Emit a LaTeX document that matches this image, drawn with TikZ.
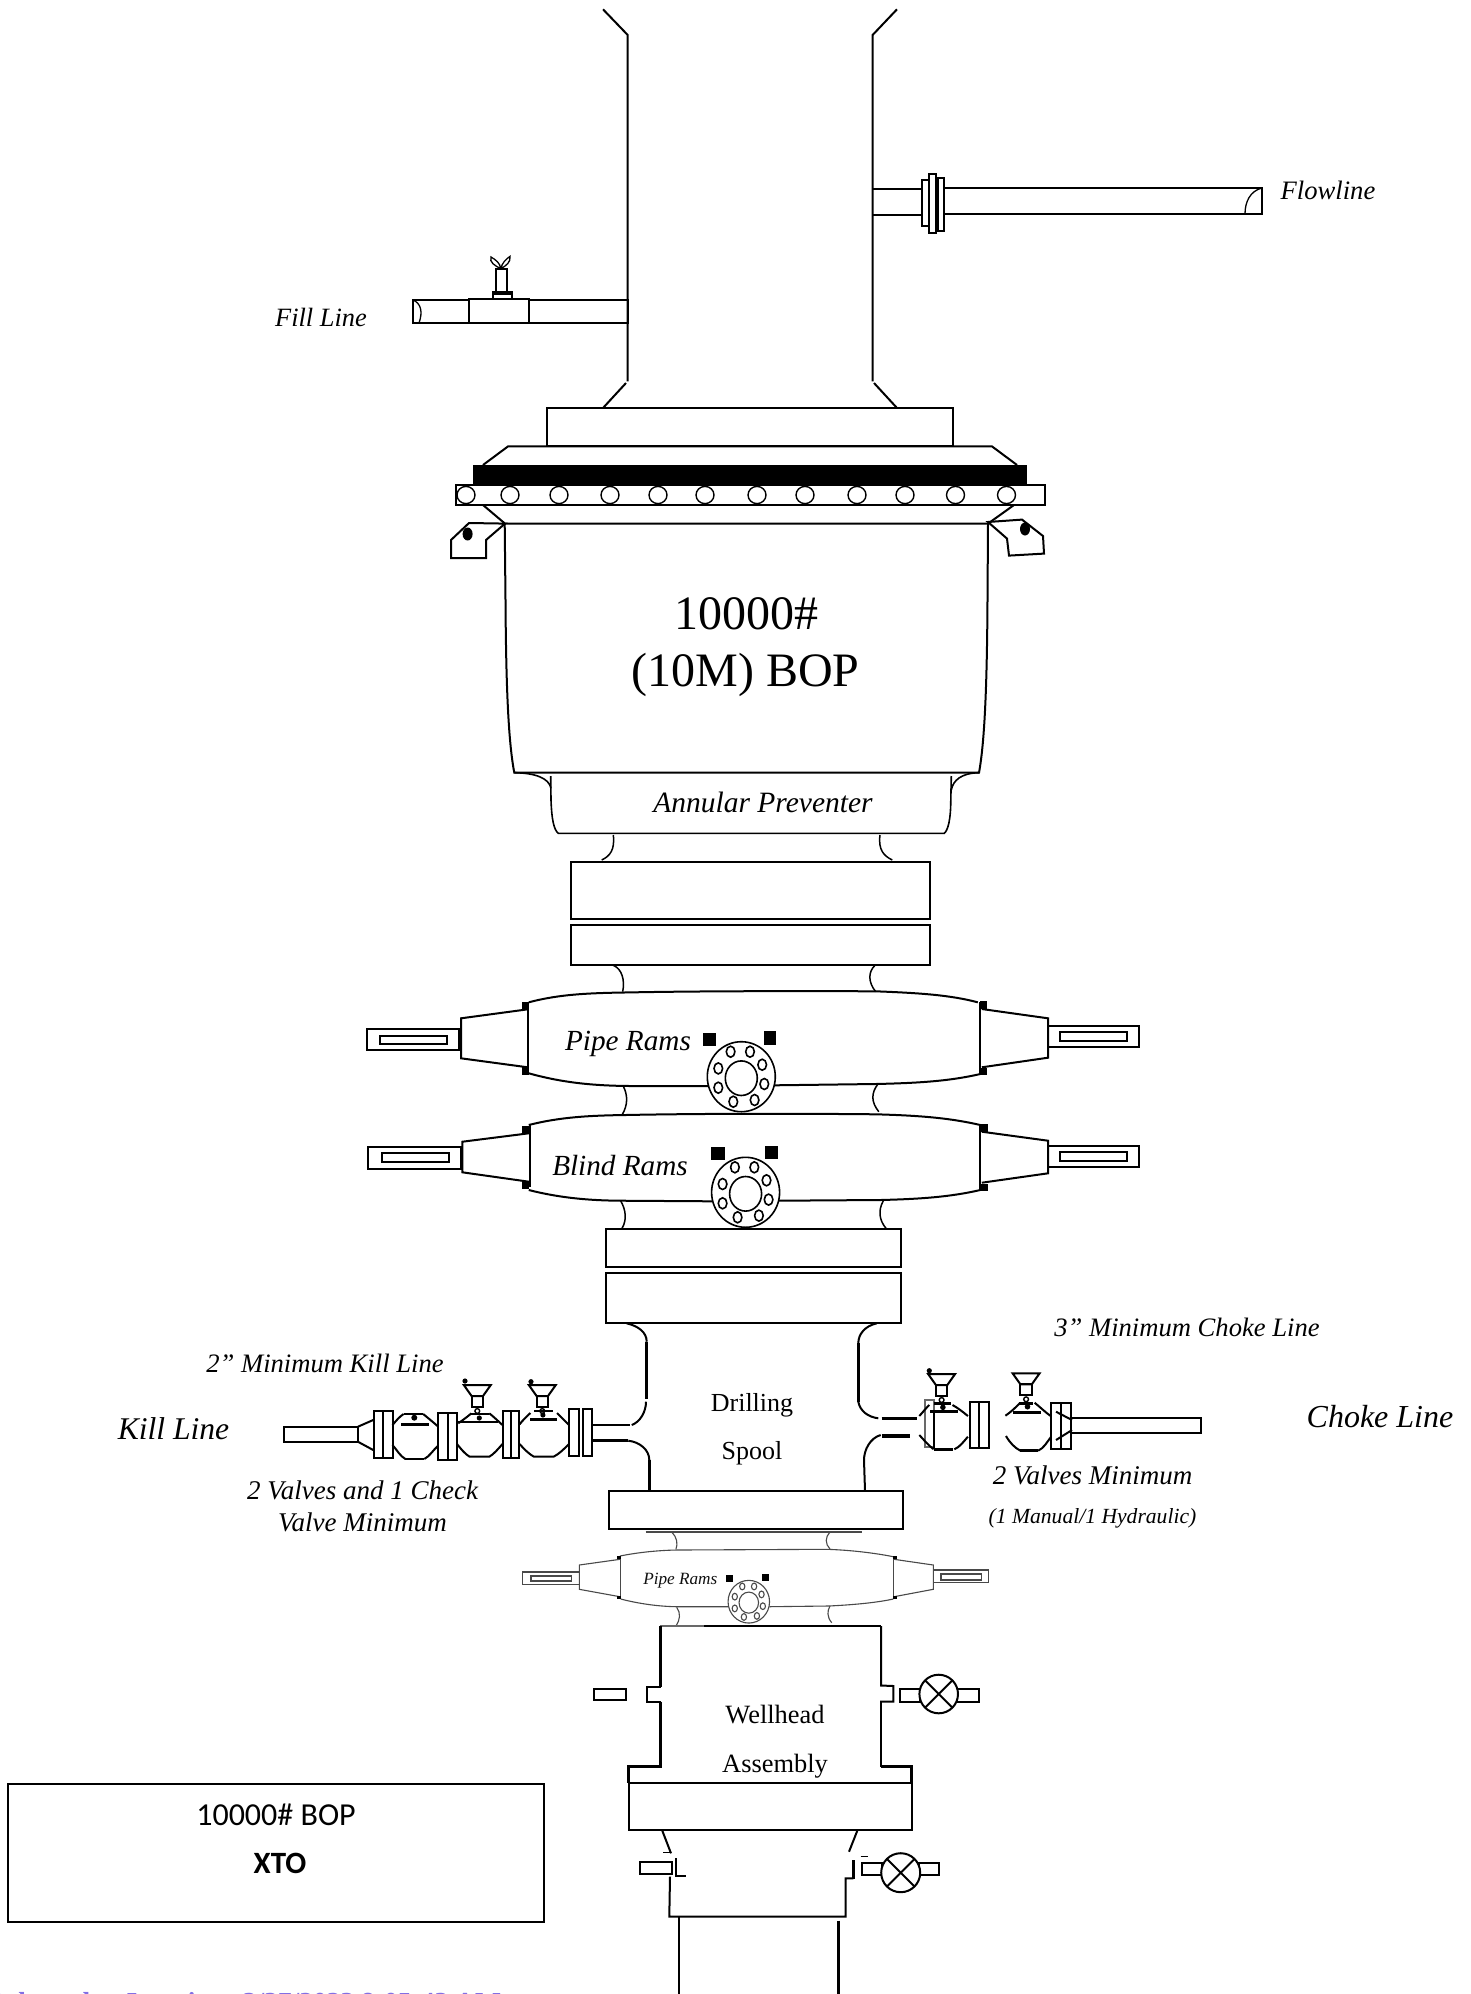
\documentclass[tikz,border=0pt]{standalone}
\usepackage{fontspec}
\setmainfont{Liberation Serif}
\newfontfamily\boxfont{Carlito}
\definecolor{stampcol}{RGB}{130,110,228}
\definecolor{softgray}{RGB}{105,105,105}
\tikzset{
  ln/.style={line width=2pt,line join=miter},
  thk/.style={line width=3.4pt},
  thn/.style={line width=1.1pt,softgray!70!black},
  blk/.style={fill=black,draw=none},
  lbl/.style={inner sep=0pt,anchor=base,text=black},
}
\newcommand{\tsz}[1]{\fontsize{#1}{#1}\selectfont}
% flange plate: cx cy scale style
\newcommand{\flangeplate}[4]{%
  \begin{scope}[shift={(#1,#2)},#4]
    \draw[fill=white] (0,0) ellipse [x radius=34*#3,y radius=35*#3];
    \draw (0,1.5*#3) ellipse [x radius=16*#3,y radius=17.3*#3];
    \foreach \bx/\by in {-10.7/-25,8.7/-25,20.9/-12,23/7.3,13.3/23.3,-8/25,-23/11,-23/-8.3}
      \draw (\bx*#3,\by*#3) ellipse [x radius=4.3*#3,y radius=5.5*#3];
  \end{scope}}
% valve actuator: cx top
\newcommand{\actuator}[2]{%
  \draw[ln] (#1-13.5,#2) -- (#1+13.5,#2) -- (#1+5.7,#2+11) -- (#1-5.7,#2+11) -- cycle;
  \draw[ln] (#1-5.7,#2+11) rectangle (#1+5.7,#2+22);
  \draw[line width=1.4pt] (#1,#2+26) circle (2.4);}
\begin{document}
\begin{tikzpicture}[x=1pt,y=-1pt]
\useasboundingbox (0,0) rectangle (1471,1994);
\fill[white] (0,0) rectangle (1471,1994);

% riser
\draw[ln] (603,9.3) -- (627.7,35) -- (627.7,381.4);
\draw[ln] (626,383) -- (603,408);
\draw[ln] (897,9.3) -- (872.6,35) -- (872.6,381.4);
\draw[ln] (874,383) -- (897,408);

% flowline
\draw[ln] (872.6,189) -- (921.7,189);
\draw[ln] (872.6,215.4) -- (921.7,215.4);
\draw[ln] (921.7,179.6) rectangle (928.7,226);
\draw[ln] (929.3,174) rectangle (936.3,233);
\draw[ln] (937.6,178) rectangle (944,231);
\draw[ln] (944,188) rectangle (1262,214);
\draw[line width=1.3pt] (1262,188) .. controls (1250,191) and (1245,202) .. (1245,214);

% fill line
\draw[ln] (412.8,300) rectangle (627.7,323);
\draw[ln,fill=white] (469,298.6) rectangle (529,323);
\draw[line width=1.3pt] (412.8,300) .. controls (421,303) and (423,312) .. (419,323);
\draw[ln] (495.7,268.6) rectangle (507,292);
\draw[ln] (492.5,292) rectangle (511.6,298.6);
\fill (492.5,291) rectangle (511.6,295);
\draw[line width=1.3pt] (500.8,268.6) .. controls (495,266) and (489,262) .. (491,257) .. controls (496,260) and (500,263) .. (500.8,268.6);
\draw[line width=1.3pt] (500.8,268.6) .. controls (506,266) and (511,262) .. (510,256.4) .. controls (506,259) and (502,263) .. (500.8,268.6);

% annular head
\draw[ln] (546.7,408) rectangle (953,446.4);
\draw[ln] (483,465) -- (508,446.4) -- (992,446.4) -- (1017,465);
\fill (473,465) rectangle (1027,485);
\draw[ln] (455.5,485) rectangle (1045,505);
\foreach \cx in {466,510,559,610,658,705,757,805,857,905,955.5,1006.5}
  \draw[line width=1.4pt] (\cx,495) ellipse [x radius=9,y radius=8.6];
\draw[ln] (483,505) -- (505,523.6) -- (988,523.6) -- (1014,505);

% body
\draw[ln] (504.7,523.6) -- (505.5,600) .. controls (506,680) and (508,740) .. (514.3,772.7) -- (979,772.7) .. controls (985,740) and (987,680) .. (987.5,600) -- (988,523.6);
\draw[ln,line width=1.6pt] (514.3,772.7) .. controls (535,773) and (549,778) .. (551,788.3);
\draw[ln,line width=1.6pt] (979,772.7) .. controls (962,773) and (953,780) .. (951.3,790);
\draw[ln,line width=1.6pt] (550.7,776) -- (551,800) .. controls (551.7,820) and (554,830) .. (558.3,833.3) -- (944.3,833.3) .. controls (948,830) and (950.7,820) .. (950.8,800) -- (951.3,776);

% lugs
\draw[ln,fill=white] (505,523.6) -- (469,523) -- (451,540) -- (451,558) -- (486,558) -- (486,540) -- cycle;
\fill (467.6,534) ellipse [x radius=5,y radius=6.5];
\draw[ln,fill=white] (988,522) -- (1022,519.6) -- (1043,536) -- (1044,553.6) -- (1009,555.6) -- (1007,538.6) -- cycle;
\fill (1025,529) ellipse [x radius=5,y radius=6.5];

% necks and flanges under annular
\draw[line width=1.5pt] (613.3,835) .. controls (615,850) and (610,856) .. (601.7,860);
\draw[line width=1.5pt] (880,835) .. controls (878,850) and (884,856) .. (892.3,860);
\draw[ln] (570.7,861.7) rectangle (930,919.3);
\draw[ln] (570.7,924.7) rectangle (930,965);
\draw[line width=1.5pt] (613.3,965.3) .. controls (622,969) and (625,980) .. (622.7,991.7);
\draw[line width=1.5pt] (875,965.3) .. controls (868,972) and (868,982) .. (875.7,991.7);

% pipe rams
\draw[ln] (527.8,1002) -- (527.8,1073);
\draw[ln] (980.3,1002) -- (980.3,1074);
\draw[ln] (528.8,1002.3) .. controls (560,994) and (590,993) .. (630,992.4) .. controls (700,991) and (800,991) .. (875.7,991.3) .. controls (920,993) and (950,995) .. (977.8,1002.3);
\draw[ln] (528.8,1073.3) .. controls (560,1082) and (590,1085.7) .. (630,1086) -- (708.4,1086);
\draw[ln] (774.7,1085.3) -- (875.7,1084) .. controls (920,1083) and (950,1081) .. (980.3,1074);
\fill (522,1002) rectangle (528.8,1010);
\fill (522,1066.7) rectangle (528.8,1075);
\fill (980.3,1001) rectangle (987,1009);
\fill (980.3,1068) rectangle (987,1075);
\draw[ln] (527.8,1009.3) -- (461,1018.3) -- (461,1058.3) -- (527.8,1067.3);
\draw[ln] (981.8,1009) -- (1048,1018.3) -- (1048,1057.7) -- (981.8,1067.3);
\draw[ln] (366.5,1029) rectangle (458.9,1050);
\draw[ln] (379.8,1035.7) rectangle (447,1044);
\draw[ln] (1048,1025.7) rectangle (1139,1046.7);
\draw[ln] (1060.4,1032) rectangle (1127,1041);
\fill (702.8,1032.7) rectangle (716,1046);
\fill (763.5,1030.7) rectangle (776.2,1044.7);
\flangeplate{741.3}{1076.7}{1}{line width=1.6pt}

% necks between rams
\draw[line width=1.5pt] (623,1085.7) .. controls (628,1095) and (628,1105) .. (622,1115);
\draw[line width=1.5pt] (878,1084) .. controls (871,1093) and (871,1102) .. (878.8,1111.7);

% blind rams
\draw[ln] (529.8,1125) -- (529.8,1187);
\draw[ln] (980.3,1124) -- (980.3,1190);
\draw[ln] (528.8,1125) .. controls (560,1117) and (590,1115.5) .. (625.7,1115) .. controls (700,1113.5) and (800,1113.5) .. (875.7,1114.3) .. controls (920,1115.5) and (950,1118) .. (980.3,1125);
\draw[ln] (528.8,1190) .. controls (560,1198) and (590,1200.5) .. (620.6,1200.7) -- (712.4,1201.3);
\draw[ln] (778.8,1200.7) -- (880.8,1200) .. controls (920,1199) and (950,1197) .. (980.3,1190);
\fill (522,1125.7) rectangle (528.8,1133.3);
\fill (522,1181.7) rectangle (528.8,1189.3);
\fill (980.3,1124.3) rectangle (988,1131.7);
\fill (980.3,1184) rectangle (988,1190.7);
\draw[ln] (528.8,1133.3) -- (462.4,1141.7) -- (462.4,1172.3) -- (528.8,1181.7);
\draw[ln] (981.8,1131.7) -- (1048,1140.7) -- (1048,1173.3) -- (981.8,1182.7);
\draw[ln] (368,1147.3) rectangle (461,1169);
\draw[ln] (381.8,1153.3) rectangle (449.2,1162.3);
\draw[ln] (1048,1146) rectangle (1139,1166.7);
\draw[ln] (1060.4,1152) rectangle (1127,1160.7);
\fill (711.4,1146.7) rectangle (724.7,1160);
\fill (765,1146) rectangle (777.8,1159.3);
\flangeplate{745.6}{1192.3}{1}{line width=1.6pt}
\draw[line width=1.5pt] (620.6,1200.7) .. controls (626,1210) and (627,1220) .. (622,1228.3);
\draw[line width=1.5pt] (883.4,1200.7) .. controls (878,1210) and (879,1220) .. (886,1228.3);

% flanges above spool
\draw[ln] (605.7,1229) rectangle (901,1266.7);
\draw[ln] (605.7,1273.3) rectangle (901,1322.7);

% drilling spool
\draw[ln] (626.7,1323.3) .. controls (638,1326) and (646.7,1332) .. (646.7,1341.7);
\draw[thk] (646.7,1341.7) -- (646.7,1399);
\draw[ln] (646,1401.7) .. controls (646,1412) and (640,1422) .. (631.7,1425);
\draw[ln] (593.3,1425) -- (630,1425);
\draw[thk] (593.3,1440.7) -- (628.3,1440.7);
\draw[ln] (628.3,1440.7) .. controls (640,1442) and (649.3,1450) .. (649.3,1460);
\draw[thk] (649.3,1460) -- (649.3,1490.7);
\draw[ln] (876.7,1323.3) .. controls (865,1326) and (858.3,1334) .. (858.3,1343.3);
\draw[thk] (858.3,1343.3) -- (858.3,1401.7);
\draw[ln] (858.3,1401.7) .. controls (860,1411) and (868,1417) .. (878.3,1418.3);
\draw[thk] (881.7,1418.3) -- (917.3,1418.3);
\draw[thk] (881.7,1436) -- (910,1436);
\draw[ln] (880.7,1435) .. controls (870,1438) and (864,1450) .. (864,1460) -- (865,1490.7);
\draw[ln] (608.7,1490.7) rectangle (903,1529);

% kill line
\draw[ln] (284,1426.7) rectangle (357.9,1441.7);
\draw[ln] (357.9,1426.7) -- (373.2,1420);
\draw[ln] (357.9,1441.7) -- (373.2,1450);
\draw[ln] (373.9,1411) rectangle (383.2,1457.7);
\draw[ln] (383.2,1411) rectangle (392.5,1457.7);
% check valve
\draw[ln] (392.5,1425) .. controls (396,1421) and (399,1417) .. (403.6,1414);
\draw[line width=2.6pt] (403.6,1414) -- (423.2,1414);
\draw[ln] (423.2,1414) .. controls (428,1418) and (433,1422) .. (437.5,1426);
\draw[line width=2.6pt] (401,1424.3) -- (428.6,1424.3);
\fill (414.3,1417.7) circle (3);
\draw[ln] (392.5,1445) .. controls (397,1450) and (400,1456) .. (405.4,1459);
\draw[line width=2.6pt] (405.4,1459) -- (424.3,1459);
\draw[ln] (424.3,1459) .. controls (430,1456) and (433,1450) .. (438.2,1445.7);
\draw[ln] (438.2,1413.3) rectangle (447.5,1460);
\draw[ln] (447.5,1413.3) rectangle (456.8,1460);
% valve 1
\draw[ln] (458.2,1423.3) .. controls (463,1420) and (467,1417) .. (471.4,1413.3);
\draw[ln] (489.3,1413.3) .. controls (494,1417) and (498,1421) .. (502.5,1425);
\draw[line width=2.6pt] (458.2,1422) -- (498,1422);
\draw[line width=2.6pt] (471.4,1414) -- (489.3,1414);
\fill (479.3,1418) circle (2.6);
\actuator{477.3}{1385}
\fill (465,1381) circle (2.6);
\draw[ln] (457,1444) .. controls (461,1449) and (465,1454) .. (469.6,1456.7) -- (489.3,1456.7) .. controls (494,1454) and (498,1449) .. (502.5,1444);
\draw[ln] (502.5,1411) rectangle (510.7,1457.7);
\draw[ln] (510.7,1411) rectangle (519,1457.7);
% valve 2
\draw[ln] (519.6,1424.3) .. controls (523,1420) and (527,1416) .. (530.4,1413);
\draw[ln] (557,1413) .. controls (561,1417) and (565,1421) .. (569,1425);
\draw[line width=2.6pt] (530.4,1419.5) -- (557,1419.5);
\draw[line width=2.6pt] (534,1411) -- (552.9,1411);
\fill (542.9,1415) circle (2.6);
\actuator{542.3}{1385}
\fill (531,1381.7) circle (2.6);
\draw[ln] (519.6,1444) .. controls (524,1449) and (529,1454) .. (533.9,1456.7) -- (553.6,1456.7) .. controls (559,1454) and (564,1449) .. (569,1444);
\draw[ln] (569,1409) rectangle (578.9,1455.7);
\draw[ln] (582.9,1409) rectangle (592,1455.7);

% choke line
\draw[ln,softgray] (925,1400) rectangle (933.9,1446.7);
\actuator{941.6}{1374}
\fill (929.3,1370.7) circle (2.6);
\fill (942.9,1407.3) circle (2.8);
\draw[line width=2.6pt] (933.6,1403.5) -- (950.7,1403.5);
\draw[line width=2.6pt] (930,1411.7) -- (957.9,1411.7);
\draw[ln] (919.3,1416) .. controls (923,1412) and (926,1408) .. (929.3,1405);
\draw[ln] (952.5,1405) .. controls (958,1408) and (963,1412) .. (967.9,1416);
\draw[ln] (919.3,1435) .. controls (924,1440) and (928,1445) .. (933.6,1449.3);
\draw[line width=2pt] (933.6,1411.7) -- (933.6,1449.3);
\draw[line width=2.6pt] (933.6,1449.3) -- (952.5,1449.3);
\draw[ln] (954.3,1449.3) .. controls (960,1447) and (964,1441) .. (967.9,1436.7);
\draw[ln] (969.6,1401.7) rectangle (979.3,1448.3);
\draw[ln] (979.3,1401.7) rectangle (989.3,1448.3);
\actuator{1026.1}{1373.3}
\fill (1027.5,1406.7) circle (2.8);
\draw[line width=2.6pt] (1018.6,1403.5) -- (1032.9,1403.5);
\draw[line width=2.6pt] (1013.2,1412.7) -- (1040.7,1412.7);
\draw[ln] (1005.4,1415.7) .. controls (1011,1412) and (1016,1407) .. (1020.4,1402.7);
\draw[ln] (1034.6,1402.7) .. controls (1040,1407) and (1045,1412) .. (1050.7,1416);
\draw[ln] (1006,1436) .. controls (1010,1443) and (1015,1448) .. (1020.4,1450.7);
\draw[line width=2.6pt] (1020.4,1450.7) -- (1038.2,1450.7);
\draw[ln] (1038.2,1450.7) .. controls (1044,1448) and (1047,1442) .. (1050.7,1437.3);
\draw[ln] (1050.7,1402.7) rectangle (1060.7,1449.3);
\draw[ln] (1061.4,1402.7) rectangle (1071,1449.3);
\draw[ln] (1056,1411.7) -- (1072,1420);
\draw[ln] (1056,1440) -- (1072,1430);
\draw[ln] (1071,1418.3) rectangle (1201.4,1433.3);

% small pipe rams
\begin{scope}[thn]
\draw (645.7,1532) -- (862.3,1532);
\draw (671.7,1532) .. controls (677,1537) and (678,1544) .. (676,1549);
\draw (830,1532) .. controls (825,1537) and (825,1544) .. (830,1549);
\draw (620,1556) .. controls (640,1552) and (660,1550.3) .. (676.7,1550) -- (826.7,1549.3) .. controls (850,1550) and (875,1553) .. (893.3,1556.7);
\draw (620.7,1556) -- (620.7,1599);
\draw (893.3,1556) -- (893.3,1599);
\draw (620.7,1599) .. controls (640,1604) and (660,1606.5) .. (676.7,1606.7) -- (728.3,1606.7);
\draw (769.3,1606.7) -- (828.3,1606) .. controls (850,1605) and (875,1603) .. (893.3,1599);
\draw (620,1559.3) -- (579.3,1565) -- (579.3,1589.3) -- (620,1596.7);
\draw (894,1559.3) -- (933.3,1565) -- (933.3,1589.3) -- (894,1596.7);
\draw (522.7,1572) rectangle (579.3,1584.7);
\draw (531,1576) rectangle (571.7,1581);
\draw (933.3,1570) rectangle (988.3,1582.7);
\draw (941,1574) rectangle (981.7,1580);
\draw (676.7,1607.3) .. controls (681,1613) and (680,1620) .. (676,1626);
\draw (830,1606) .. controls (827,1611) and (827,1617) .. (831.7,1622.7);
\end{scope}
\flangeplate{748.8}{1601.7}{0.61}{thn}
\fill (617.3,1556) rectangle (620.7,1559.3);
\fill (617.3,1596) rectangle (620.7,1599.3);
\fill (893.3,1556) rectangle (896.7,1559.3);
\fill (893.3,1596) rectangle (896.7,1599.3);
\fill (725.7,1574.7) rectangle (733.3,1582.3);
\fill (762.3,1574) rectangle (769,1581.3);

% wellhead
\draw[line width=1.3pt,softgray] (660,1626) -- (704,1626);
\draw[ln] (704,1626) -- (881,1626);
\draw[line width=2.8pt] (660.7,1626) -- (660.7,1686.7);
\draw[ln] (660.7,1686.7) -- (646.7,1686.7) -- (646.7,1701.7) -- (660.7,1701.7);
\draw[line width=2.8pt] (660.7,1701.7) -- (660.7,1766.7) -- (628.3,1766.7) -- (628.3,1782.7);
\draw[ln] (881,1626) -- (881,1685.5) -- (893.3,1686) -- (893.3,1701.7) -- (880,1701.7);
\draw[ln] (881,1701.7) -- (881,1766.7);
\draw[line width=2.8pt] (881,1766.7) -- (911.7,1766.7) -- (911.7,1782.7);
\draw[ln] (629,1782.7) rectangle (912.3,1830);
\draw[ln] (594,1688.7) rectangle (626,1700);
\draw[ln] (900,1689.3) rectangle (920,1701.7);
\draw[ln] (957.3,1689.3) rectangle (979,1701.7);
\draw[ln,fill=white] (938.7,1694) circle (19.3);
\draw[ln] (925,1680.3) -- (952.4,1707.7);
\draw[ln] (925,1707.7) -- (952.4,1680.3);

% casing head
\draw[ln] (662.3,1830.7) -- (671,1853.3);
\draw[line width=1.3pt] (663.3,1852.7) -- (671,1852.7);
\draw[ln] (857.3,1830.7) -- (849,1851.7);
\draw[ln] (675.7,1858.3) -- (675.7,1875.7) -- (685.7,1875.7);
\draw[ln] (640,1862.3) rectangle (672.3,1874);
\draw[ln] (670,1876.7) -- (669.3,1916.7) -- (845.7,1916.7) -- (845.7,1878.3) -- (853.3,1878.3);
\draw[line width=2.4pt] (853.3,1860) -- (853.3,1879);
\draw[line width=1.3pt] (860.7,1856.7) -- (868.3,1856.7);
\draw[ln] (861.7,1862.7) rectangle (882.3,1875);
\draw[ln] (919.3,1862.7) rectangle (939.3,1875);
\draw[ln,fill=white] (900.7,1872.7) circle (19.5);
\draw[ln] (886.9,1858.9) -- (914.5,1886.5);
\draw[ln] (886.9,1886.5) -- (914.5,1858.9);
\draw[ln] (679,1916.7) -- (679,1994);
\draw[line width=2.4pt] (838.3,1920.7) -- (838.3,1994);

% information box
\draw[ln] (7.6,1784) rectangle (544.3,1922);

% labels
\node[lbl] (tflow) at (1328,199) {\tsz{26.6}\itshape Flowline};
\node[lbl] (tfill) at (321,326) {\tsz{26.4}\itshape Fill Line};
\node[lbl] (tbop1) at (746,629) {\tsz{48}10000\#};
\node[lbl] (tbop2) at (745.5,686) {\tsz{48}(10M) BOP};
\node[lbl] (tann) at (763,812.5) {\tsz{29.5}\itshape Annular Preventer};
\node[lbl] (tpipe) at (628,1050) {\tsz{29.2}\itshape Pipe Rams};
\node[lbl] (tblind) at (620,1175.5) {\tsz{29.2}\itshape Blind Rams};
\node[lbl] (tdrill) at (752,1411.7) {\tsz{26}Drilling};
\node[lbl] (tspool) at (752,1459.3) {\tsz{26}Spool};
\node[lbl] (tkillmin) at (325,1372.2) {\tsz{26.6}\itshape 2” Minimum Kill Line};
\node[lbl] (tkill) at (173.5,1439.8) {\tsz{31.6}\itshape Kill Line};
\node[lbl] (tcheckA) at (362.5,1499.5) {\tsz{27}\itshape 2 Valves and 1 Check};
\node[lbl] (tcheckB) at (362.5,1531.5) {\tsz{27}\itshape Valve Minimum};
\node[lbl] (tchokemin) at (1187,1336.2) {\tsz{26.6}\itshape 3” Minimum Choke Line};
\node[lbl] (tchoke) at (1380,1427) {\tsz{32}\itshape Choke Line};
\node[lbl] (tvalves) at (1092.5,1484) {\tsz{27}\itshape 2 Valves Minimum};
\node[lbl] (tmanual) at (1092.5,1523.5) {\tsz{21.6}\itshape (1 Manual/1 Hydraulic)};
\node[lbl,text=black!85!softgray] (tsmall) at (680.3,1584) {\tsz{17.2}\itshape Pipe Rams};
\node[lbl] (twell) at (775,1723.5) {\tsz{26.4}Wellhead};
\node[lbl] (tassy) at (775,1772) {\tsz{26.4}Assembly};
\node[lbl] (tboxA) at (276,1825.5) {\boxfont\tsz{32}10000\# BOP};
\node[lbl] (tboxB) at (280,1873.5) {\boxfont\bfseries\tsz{31}XTO};

% cut-off stamp at the page foot
\begin{scope}
\clip (0,0) rectangle (1471,1994);
\node[inner sep=0pt,anchor=base west,text=stampcol] (tstamp) at (-14,2011) {\tsz{27.5}\bfseries Released to Imaging: 2/27/2023 8:05:43 AM};
\end{scope}
\end{tikzpicture}
\end{document}
